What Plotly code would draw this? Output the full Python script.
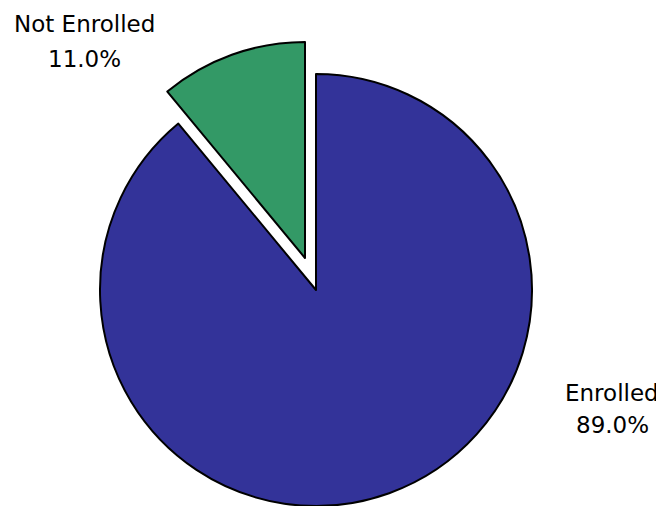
import plotly.graph_objects as go

labels = ["Enrolled", "Not Enrolled"]
values = [89.0, 11.0]
colors = ["#333399", "#339966"]

# the page body has an 8px margin, so the figure is drawn 8px in from the window edge
OFF = 8
W, H = 664 - OFF, 506 - OFF
total = sum(values)
pcts = [f"{v / total * 100:.1f}%" for v in values]

def px_x(x):
    return (x - OFF) / W

def px_y(y):
    return 1 - (y - OFF) / H

fig = go.Figure()

# main (unpulled) slices: Enrolled visible
fig.add_trace(go.Pie(
    labels=labels, values=values, sort=False, direction="clockwise", rotation=0,
    marker=dict(colors=[colors[0], "rgba(0,0,0,0)"],
                line=dict(color=["black", "rgba(0,0,0,0)"], width=[2, 0])),
    textinfo="none", hoverinfo="label+percent", showlegend=False,
    domain=dict(x=[px_x(100), px_x(532)], y=[max(0, px_y(506)), px_y(74)]),
))

# exploded slice: Not Enrolled visible
fig.add_trace(go.Pie(
    labels=labels, values=values, sort=False, direction="clockwise", rotation=0,
    marker=dict(colors=["rgba(0,0,0,0)", colors[1]],
                line=dict(color=["rgba(0,0,0,0)", "black"], width=[0, 2])),
    textinfo="none", hoverinfo="label+percent", showlegend=False,
    domain=dict(x=[px_x(89), px_x(521)], y=[px_y(474), px_y(42)]),
))

label_pos = {"Enrolled": (612, 393, 425), "Not Enrolled": (84, 24, 59)}
font = dict(family="DejaVu Sans", size=23, color="black")
annotations = []
for lab, pct in zip(labels, pcts):
    x, y1, y2 = label_pos[lab]
    annotations.append(dict(x=px_x(x), y=px_y(y1), xref="paper", yref="paper", text=lab,
                            showarrow=False, font=font, xanchor="center", yanchor="middle"))
    annotations.append(dict(x=px_x(x), y=px_y(y2), xref="paper", yref="paper", text=pct,
                            showarrow=False, font=font, xanchor="center", yanchor="middle"))

fig.update_layout(
    width=W, height=H, margin=dict(l=0, r=0, t=0, b=0),
    paper_bgcolor="white", plot_bgcolor="white",
    annotations=annotations,
)

fig.write_html("out.html")
